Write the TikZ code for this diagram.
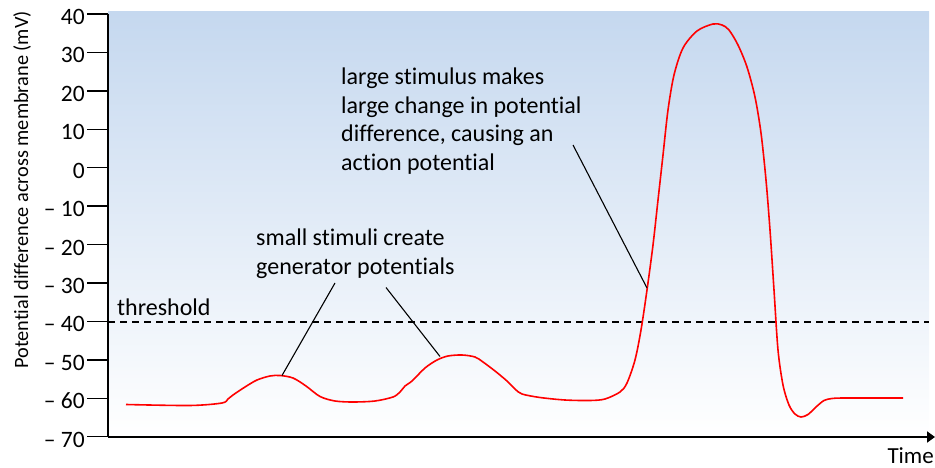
\documentclass[tikz,border=0pt]{standalone}
\usepackage{fontspec}
\setmainfont{Carlito}[Ligatures={NoCommon}]
\usetikzlibrary{arrows.meta}
\definecolor{bgtop}{RGB}{197,216,239}
\definecolor{curvered}{RGB}{255,0,0}
\tikzset{
  ticklab/.style={anchor=base east, inner sep=0pt, font=\fontsize{23.5}{28}\selectfont},
  tickline/.style={line width=1.3pt},
  lbl/.style={anchor=north west, inner sep=0pt, align=left, font=\fontsize{24}{28.5}\selectfont},
  pointer/.style={line width=1.1pt},
}
\begin{document}
\begin{tikzpicture}[x=1pt,y=-1pt]
\useasboundingbox (0,0) rectangle (935,468);
% background gradient
\shade[top color=bgtop, bottom color=white] (108,12) rectangle (929,437);
% threshold
\draw[line width=1.2pt, dash pattern=on 7pt off 5pt] (108,322) -- (929,322);
\node[anchor=base west, inner sep=0pt, font=\fontsize{24}{28}\selectfont] (thr) at (117,315) {threshold};
% y axis and ticks
\foreach \v [count=\i from 0] in {40,30,20,10,0,– 10,– 20,– 30,– 40,– 50,– 60,– 70} {
  \pgfmathsetmacro{\yy}{14+\i*38.43}
  \draw[tickline] (87,\yy) -- (108,\yy);
  \node[ticklab] (t\i) at (85,\yy+10.5) {\v};
}
\draw[line width=1.5pt] (108,14) -- (108,437);
% x axis
\draw[line width=2.2pt, -{Triangle[length=8pt,width=11pt]}] (108,437) -- (935,437);
\node[anchor=base east, inner sep=0pt, font=\fontsize{23}{27}\selectfont] (time) at (934,463) {Time};
% y label
\node[rotate=90, inner sep=0pt, font=\fontsize{20.3}{24}\selectfont] (ylab) at (22,190) {Potential difference across membrane (mV)};
% red curve
\draw[curvered, line width=1.6pt] plot[smooth, tension=0.5] coordinates {
(126,404.5) (190,405.5) (222,403) (228,399) (233,395) (245,387) (257,380) (270,376) (280,375.5) (293,378) (306,386) (320,396.5) (335,401) (353,402) (375,401) (393,397) (400,392) (405,386) (412,381) (425,368) (437,360) (448,356) (462,355) (475,357) (483,362) (495,371) (507,381) (515,389) (522,394) (540,397.5) (565,400) (590,400.5) (605,399) (620,392) (627,383) (635,360) (641,330) (647,290) (653,245) (658,200) (663,155) (668,110) (674,75) (683,48) (697,31) (713,24) (722,25) (729,30) (738,45) (747,67) (755,97) (761,133) (766,180) (770,230) (774,290) (778,350) (783,385) (789,405) (795,414) (801,417) (808,414.5) (816,407) (824,400.5) (832,398.5) (845,398) (903,398)};
% labels
\node[lbl] (small) at (256,229) {small stimuli create\\generator potentials};
\node[lbl] (large) at (341,68) {large stimulus makes\\large change in potential\\difference, causing an\\action potential};
% pointers
\coordinate (s1a) at (335,283);
\coordinate (s1b) at (282,375.5);
\coordinate (s2a) at (386,287.5);
\coordinate (s2b) at (440,356.5);
\coordinate (la) at (573,145);
\coordinate (lb) at (647,288);
\draw[pointer] (s1a) -- (s1b);
\draw[pointer] (s2a) -- (s2b);
\draw[pointer] (la) -- (lb);
\end{tikzpicture}
\end{document}
